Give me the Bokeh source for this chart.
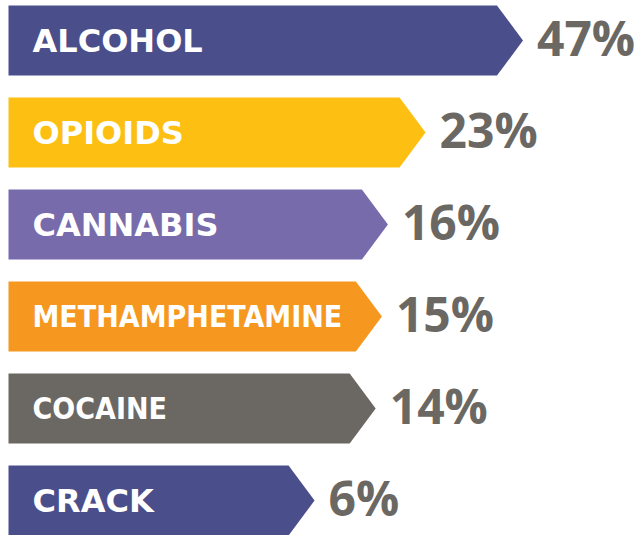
import numpy as np
from bokeh.plotting import figure
from bokeh.models import ColumnDataSource, Range1d
from bokeh.core.properties import value
from bokeh.embed import file_html
from bokeh.resources import INLINE

# ---- data ----
categories = ["ALCOHOL", "OPIOIDS", "CANNABIS", "METHAMPHETAMINE", "COCAINE", "CRACK"]
values = [47, 23, 16, 15, 14, 6]
pct_labels = ["47%", "23%", "16%", "15%", "14%", "6%"]

# ---- styles ----
bar_colors = ["#4A4E8B", "#FDBF12", "#776BAB", "#F6981F", "#6B6863", "#4A4E8B"]
label_fonts = ["DejaVu Sans", "DejaVu Sans", "DejaVu Sans",
               "DejaVu Sans Condensed", "DejaVu Sans Condensed", "DejaVu Sans"]
label_sizes = ["32px", "32px", "32px", "30px", "30px", "32px"]
GRAY = "#6B6863"

W, H = 639, 535
ROW = 92.0          # px per row
FIRST = 40.0        # px from top to first bar centre
HALF = 35 / ROW     # half bar height in row units
LEFT = 8
# infographic uses a compressed (square-root) length scale
BASE, K = 198.2, 47.3
TIP_W = 26
LABEL_X = 32
PCT_GAP = 14

n = len(categories)
ypos = list(range(n))
tips = [BASE + K * np.sqrt(v) for v in values]

xs, ys = [], []
for i, t in zip(ypos, tips):
    r = t - TIP_W
    xs.append([LEFT, r, t, r, LEFT])
    ys.append([i - HALF, i - HALF, i, i + HALF, i + HALF])

bars = ColumnDataSource(dict(xs=xs, ys=ys, color=bar_colors))
labels = ColumnDataSource(dict(x=[LABEL_X] * n, y=ypos, text=categories,
                               font=label_fonts, size=label_sizes))
pcts = ColumnDataSource(dict(x=[t + PCT_GAP for t in tips], y=[i - 0.03 for i in ypos],
                             text=pct_labels))

p = figure(width=W, height=H, output_backend="svg", toolbar_location=None,
           x_range=Range1d(0, W),
           y_range=Range1d((H - FIRST) / ROW, -FIRST / ROW),
           x_axis_location=None, y_axis_location=None, min_border=0)
p.grid.visible = False
p.outline_line_color = None
p.background_fill_color = "white"
p.border_fill_color = "white"

p.patches("xs", "ys", source=bars, fill_color="color", line_color=None)
p.text("x", "y", text="text", source=labels, text_color="white",
       text_font="font", text_font_size="size", text_font_style="bold",
       text_baseline="middle", text_align="left")
p.text("x", "y", text="text", source=pcts, text_color=GRAY,
       text_font=value("Open Sans"), text_font_size="48px", text_font_style="bold",
       text_baseline="middle", text_align="left")

open("out.html", "w").write(file_html(p, INLINE))
